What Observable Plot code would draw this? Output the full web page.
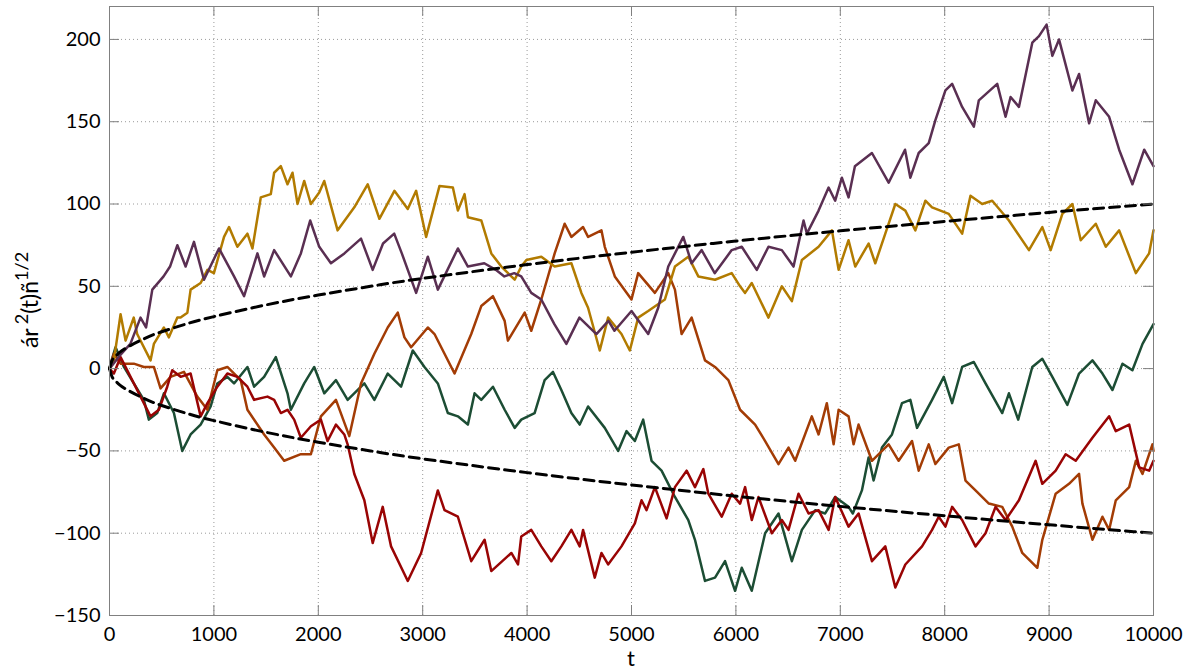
<!DOCTYPE html>
<html><head><meta charset="utf-8">
<script src="https://cdn.jsdelivr.net/npm/d3@7"></script>
<script src="https://cdn.jsdelivr.net/npm/@observablehq/plot@0.6"></script>
<style>body{margin:0;background:#fff} svg{display:block}</style>
</head><body><div id="chart"></div>
<script>
const xTicks = [0,1000,2000,3000,4000,5000,6000,7000,8000,9000,10000];
const yTicks = [-150,-100,-50,0,50,100,150,200];

const purple = [[0,0],[100,8],[200,15],[297,31],[350,25],[410,48],[518,56],[580,62],[650,75],[729,62],[809,77],[905,54],[1049,73],[1193,56],[1289,44],[1417,70],[1481,56],[1577,72],[1737,56],[1833,70],[1922,90],[2009,74],[2121,64],[2250,70],[2409,79],[2521,60],[2620,76],[2727,82],[2800,70],[2937,46],[3049,68],[3145,48],[3337,73],[3433,62],[3590,64],[3700,60],[3782,56],[3877,58],[3944,56],[4040,46],[4136,42],[4261,27],[4376,15],[4501,31],[4664,21],[4779,29],[4837,23],[5000,35],[5160,21],[5256,37],[5352,62],[5496,80],[5576,64],[5672,72],[5797,58],[5960,72],[6056,74],[6200,60],[6312,74],[6440,72],[6552,62],[6648,90],[6680,82],[6792,96],[6888,110],[6951,102],[7015,116],[7079,104],[7140,123],[7303,131],[7463,113],[7620,133],[7671,116],[7751,131],[7847,137],[7911,151],[8007,169],[8071,173],[8167,159],[8279,147],[8327,163],[8503,173],[8583,153],[8631,165],[8711,159],[8839,198],[8903,202],[8976,209],[9031,190],[9095,200],[9223,169],[9287,179],[9383,149],[9447,163],[9575,153],[9671,133],[9798,112],[9911,133],[10000,123]];

const gold = [[0,0],[42,5],[106,33],[154,17],[232,31],[265,21],[393,5],[425,15],[521,25],[569,19],[650,31],[681,31],[746,34],[777,48],[873,52],[938,60],[1000,58],[1097,80],[1145,86],[1225,74],[1321,82],[1369,73],[1449,104],[1545,106],[1577,119],[1641,123],[1705,112],[1753,119],[1801,100],[1865,114],[1929,100],[2009,107],[2057,114],[2185,84],[2345,98],[2473,112],[2585,91],[2729,108],[2857,97],[2937,108],[3033,80],[3161,111],[3289,110],[3337,96],[3401,106],[3433,92],[3561,90],[3657,70],[3753,62],[3881,54],[3944,62],[3993,66],[4136,68],[4264,62],[4424,64],[4520,46],[4584,37],[4696,11],[4776,31],[4904,21],[4984,11],[5064,31],[5160,35],[5320,42],[5416,62],[5544,68],[5640,56],[5800,54],[5960,58],[6040,50],[6088,46],[6152,52],[6312,31],[6440,50],[6536,41],[6632,66],[6792,74],[6920,84],[6984,60],[7079,78],[7143,62],[7271,76],[7335,64],[7431,82],[7527,100],[7623,96],[7719,84],[7815,102],[7879,98],[8039,94],[8167,82],[8247,105],[8359,100],[8455,102],[8615,90],[8807,72],[8935,86],[9015,72],[9127,94],[9223,100],[9303,78],[9447,88],[9543,74],[9671,84],[9831,58],[9958,70],[10000,84]];

const orange = [[0,0],[42,9],[106,3],[233,3],[329,1],[425,1],[489,-12],[585,-5],[713,-2],[841,-17],[938,-25],[1033,-1],[1129,1],[1257,-7],[1321,-25],[1481,-40],[1577,-48],[1673,-56],[1833,-52],[1929,-52],[2025,-29],[2169,-19],[2297,-41],[2409,-9],[2537,9],[2665,25],[2761,34],[2825,19],[2889,13],[3049,25],[3113,21],[3305,-3],[3465,21],[3561,38],[3673,44],[3785,29],[3816,17],[3977,34],[4040,23],[4136,42],[4264,70],[4360,88],[4424,80],[4536,86],[4584,80],[4712,84],[4744,74],[4840,56],[5000,42],[5064,58],[5224,46],[5352,58],[5416,48],[5480,21],[5576,31],[5704,5],[5800,1],[5928,-7],[6040,-25],[6184,-34],[6280,-44],[6408,-58],[6504,-48],[6568,-56],[6727,-29],[6792,-40],[6871,-21],[6936,-46],[6984,-25],[7079,-29],[7127,-46],[7175,-34],[7303,-56],[7463,-46],[7559,-56],[7687,-44],[7751,-62],[7847,-46],[7911,-58],[8039,-48],[8135,-46],[8199,-68],[8295,-74],[8423,-82],[8551,-84],[8647,-96],[8743,-112],[8887,-121],[8935,-104],[9063,-76],[9191,-70],[9287,-64],[9319,-82],[9415,-104],[9511,-90],[9575,-98],[9639,-80],[9767,-72],[9831,-56],[9895,-64],[9990,-46],[10000,-50]];

const green = [[0,0],[20,5],[58,13],[138,1],[233,-9],[329,-19],[377,-31],[457,-27],[521,-15],[617,-27],[697,-50],[777,-40],[873,-34],[969,-23],[1033,-9],[1129,-5],[1193,-9],[1321,1],[1385,-11],[1481,-5],[1593,7],[1705,-15],[1737,-25],[1865,-9],[1961,1],[2057,-15],[2169,-7],[2281,-19],[2441,-9],[2537,-19],[2665,-3],[2793,-11],[2905,11],[3017,1],[3145,-9],[3241,-27],[3337,-29],[3433,-34],[3497,-15],[3561,-19],[3673,-11],[3785,-25],[3881,-36],[3944,-31],[4072,-27],[4168,-7],[4248,-2],[4328,-13],[4424,-27],[4504,-34],[4584,-23],[4744,-36],[4872,-50],[4952,-38],[5032,-44],[5112,-31],[5192,-56],[5288,-62],[5416,-78],[5544,-92],[5608,-104],[5704,-129],[5800,-127],[5896,-117],[5992,-135],[6056,-121],[6152,-135],[6280,-100],[6408,-88],[6536,-117],[6632,-98],[6760,-86],[6855,-88],[6951,-78],[7079,-84],[7120,-88],[7207,-74],[7271,-54],[7319,-68],[7399,-48],[7495,-40],[7591,-21],[7671,-19],[7735,-36],[7879,-19],[7991,-5],[8071,-21],[8167,1],[8279,4],[8391,-9],[8551,-27],[8615,-15],[8704,-31],[8839,1],[8935,6],[9031,-5],[9175,-22],[9287,-3],[9415,5],[9511,-3],[9607,-13],[9703,3],[9798,-1],[9895,15],[10000,27]];

const red = [[0,0],[42,-3],[106,7],[233,-9],[329,-21],[393,-29],[473,-25],[553,-11],[601,-1],[681,-5],[777,-3],[873,-29],[938,-21],[1033,-11],[1129,-3],[1225,-5],[1321,-11],[1385,-19],[1513,-17],[1577,-19],[1641,-27],[1705,-25],[1769,-31],[1833,-42],[1929,-35],[2025,-31],[2089,-44],[2169,-34],[2249,-40],[2281,-46],[2345,-64],[2441,-80],[2521,-106],[2617,-84],[2697,-108],[2857,-129],[2985,-112],[3145,-74],[3209,-86],[3337,-90],[3465,-117],[3593,-104],[3657,-123],[3849,-112],[3913,-119],[3944,-102],[4040,-98],[4136,-108],[4232,-117],[4328,-108],[4424,-98],[4504,-108],[4536,-98],[4648,-127],[4712,-112],[4776,-119],[4904,-108],[5032,-94],[5096,-80],[5144,-86],[5224,-72],[5336,-91],[5416,-72],[5528,-62],[5608,-72],[5688,-61],[5736,-76],[5864,-90],[5960,-76],[6040,-82],[6088,-72],[6152,-92],[6216,-78],[6344,-100],[6440,-92],[6504,-98],[6600,-76],[6696,-88],[6792,-86],[6888,-98],[6951,-78],[7079,-96],[7175,-88],[7303,-117],[7431,-108],[7527,-133],[7623,-119],[7783,-108],[7879,-98],[7943,-90],[8007,-96],[8071,-84],[8167,-92],[8295,-108],[8391,-100],[8487,-84],[8583,-92],[8711,-80],[8871,-56],[8935,-70],[9063,-62],[9159,-52],[9255,-56],[9415,-42],[9575,-29],[9639,-38],[9767,-34],[9863,-60],[9958,-62],[10000,-56]];

// envelope (upper = +, lower = -)
const envT = [0,25,50,100,200,350,500,750,1000,1500,2000,2500,3000,4000,5000,6000,7000,8000,9000,10000];
const envV = [0,5,7,10,14,18.7,22.4,27.4,31.6,38.7,44.7,50,54.8,63.2,70.7,77.5,83.7,89.4,94.9,100];

const W = 1196, H = 671, mL = 109, mR = 43, mT = 6, mB = 56;
const fw = W - mL - mR, fh = H - mT - mB;

const seriesList = [
  {name: "green", color: "#1c4d34", data: green},
  {name: "orange", color: "#a33c05", data: orange},
  {name: "red", color: "#990404", data: red},
  {name: "gold", color: "#b27b00", data: gold},
  {name: "purple", color: "#5a2f52", data: purple}
];
const env = envT.map((t, i) => ({t, up: envV[i], lo: -envV[i]}));
const minus = d => d < 0 ? "\u2212" + (-d) : String(d);

const lineMarks = seriesList.map(s =>
  Plot.line(s.data.map(([t, v]) => ({t, v})), {x: "t", y: "v", stroke: s.color, strokeWidth: 2.5, strokeLinejoin: "round"})
);

const chart = Plot.plot({
  width: W, height: H,
  marginLeft: mL, marginRight: mR, marginTop: mT, marginBottom: mB,
  style: {fontFamily: "Lato, 'Open Sans', sans-serif", fontSize: "20px", background: "#fff", color: "#000"},
  x: {domain: [0, 10000]},
  y: {domain: [-150, 220]},
  marks: [
    Plot.gridX(xTicks, {stroke: "#9a9a9a", strokeOpacity: 1, strokeDasharray: "1,3"}),
    Plot.gridY(yTicks, {stroke: "#9a9a9a", strokeOpacity: 1, strokeDasharray: "1,3"}),
    ...lineMarks,
    Plot.line(env, {x: "t", y: "up", stroke: "#000", strokeWidth: 3, strokeDasharray: "10,6", curve: "natural"}),
    Plot.line(env, {x: "t", y: "lo", stroke: "#000", strokeWidth: 3, strokeDasharray: "10,6", curve: "natural"}),
    Plot.tickY(yTicks, {y: d => d, insetRight: fw - 10, stroke: "#808080"}),
    Plot.tickY(yTicks, {y: d => d, insetLeft: fw - 10, stroke: "#808080"}),
    Plot.tickX(xTicks, {x: d => d, insetTop: fh - 10, stroke: "#808080"}),
    Plot.tickX(xTicks, {x: d => d, insetBottom: fh - 10, stroke: "#808080"}),
    Plot.frame({stroke: "#808080"}),
    Plot.axisY(yTicks, {tickSize: 0, tickPadding: 9, fontSize: 20, label: null, tickFormat: minus}),
    Plot.axisX(xTicks, {tickSize: 0, tickPadding: 11, fontSize: 20, label: null, tickFormat: d => String(d)})
  ]
});

const svg = d3.select(chart);
const yl = svg.append("text")
  .attr("transform", "translate(38,300) rotate(-90)")
  .attr("text-anchor", "middle")
  .attr("font-family", "Lato, 'Open Sans', sans-serif")
  .attr("font-size", 23)
  .attr("fill", "#000");
yl.append("tspan").text("ár");
yl.append("tspan").attr("dy", -10).attr("dx", 4).attr("font-size", 18).text("2");
yl.append("tspan").attr("dy", 10).text("(t)ñ");
yl.append("tspan").attr("dy", -10).attr("font-size", 18).text("1/2");

svg.append("text")
  .attr("x", 631).attr("y", 666)
  .attr("text-anchor", "middle")
  .attr("font-family", "Lato, 'Open Sans', sans-serif")
  .attr("font-size", 22)
  .attr("fill", "#000")
  .text("t");

document.getElementById("chart").appendChild(chart);
</script>
</body></html>
